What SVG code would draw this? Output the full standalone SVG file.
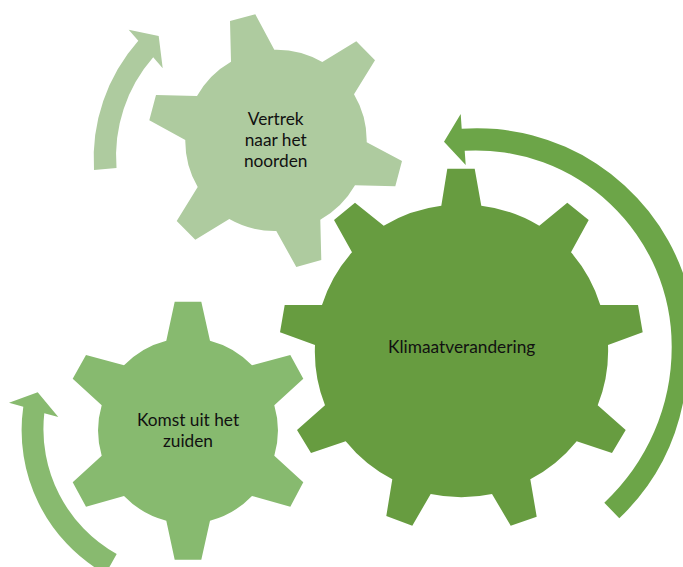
<svg xmlns="http://www.w3.org/2000/svg" width="683" height="567" viewBox="0 0 683 567">
<style>
.t{font-family:Lato,"Liberation Sans",sans-serif;font-size:17.3px;fill:#111;text-anchor:middle}
.g1{fill:#aecb9f}.g2{fill:#87ba6f}.g3{fill:#679c40}
.a1{fill:#aecb9f}.a2{fill:#88ba6f}.a3{fill:#6ca548}
</style>
<rect width="683" height="567" fill="#fff"/>
<g id="connectors">
<path class="a1" d="M94 170A178 178 0 0 1 138.300 40.700L128.700 29.700L158.700 36L162.700 68.300L153.200 57.300A150 150 0 0 0 116.500 168Z"/>
<path class="a2" d="M23.300 406.700L9 402.700L37.700 392.300L58.300 417L44.300 413.300A143 143 0 0 0 116.700 554L105.500 574A165 165 0 0 1 23.300 406.700Z"/>
<path class="a3" d="M461.700 128.700L460.700 114L444 141.700L465.700 165L464.700 150.700A196 196 0 0 1 671.700 347A213 213 0 0 1 604.300 502.700L619.300 518.300A220 220 0 0 0 683 403L700 340L683 273A219 219 0 0 0 461.700 128.700Z"/>
</g>
<g id="node-vertrek">
<path class="g1" d="M231 61.700L230 21L255.300 14.300L274.300 49.700A91 91 0 0 1 322.300 62L356.300 41.300L375 60.300L354 94.300A91 91 0 0 1 366.700 142.300L402 161L395.300 186.300L355 185.300A91 91 0 0 1 320.300 219.700L321.300 260L296.300 267L276.300 231A91 91 0 0 1 229.300 219L195.300 239.700L176.700 221L197.700 187A91 91 0 0 1 185.300 140L149.300 120.300L156 95L197 96A91 91 0 0 1 231 61.700Z"/>
<text class="t" x="275.700" y="125">Vertrek</text>
<text class="t" x="275.700" y="146">naar het</text>
<text class="t" x="275.700" y="167">noorden</text>
</g>
<g id="node-komst">
<path class="g2" d="M166.300 340.700L174.700 301.700L201.300 301.700L210 340.700A90 90 0 0 1 252 365.300L290.300 355L303.300 378.700L274.300 405.300A90 90 0 0 1 274.300 455.700L303.300 482.300L290.300 506.700L252 496A90 90 0 0 1 210 520.700L201.300 559.700L174.700 559.700L166.300 520.700A90 90 0 0 1 124 496L86 506.700L72.700 482.300L101.700 455.700A90 90 0 0 1 101.700 405.300L72.700 378.700L86 355L124 365.300A90 90 0 0 1 166.300 340.700Z"/>
<text class="t" x="188" y="425.700">Komst uit het</text>
<text class="t" x="188" y="446.700">zuiden</text>
</g>
<g id="node-klimaat">
<path class="g3" d="M441.300 205.700L447.300 168.700L474.700 168.700L481.300 205.700A146.500 146.500 0 0 1 539.300 225.700L567.300 202.700L588.700 220L571 252.300A146.500 146.500 0 0 1 600.300 305L638 305L642.700 332.300L608 345A146.500 146.500 0 0 1 597.700 405.300L625.700 430L612 453L576.700 441.300A146.500 146.500 0 0 1 530.300 479.300L536.700 516.700L510.700 525.700L492 494A146.500 146.500 0 0 1 430.700 494L412.300 525.700L386.300 516L392.300 479.300A146.500 146.500 0 0 1 345.700 441.300L311 453L297 430L325 405.300A146.500 146.500 0 0 1 315 345L280 332.300L284.700 305L322 305A146.500 146.500 0 0 1 352 252.300L334 220L355 202.700L383.700 225.700A146.500 146.500 0 0 1 441.300 205.700Z"/>
<text class="t" x="461.700" y="353">Klimaatverandering</text>
</g>
</svg>
